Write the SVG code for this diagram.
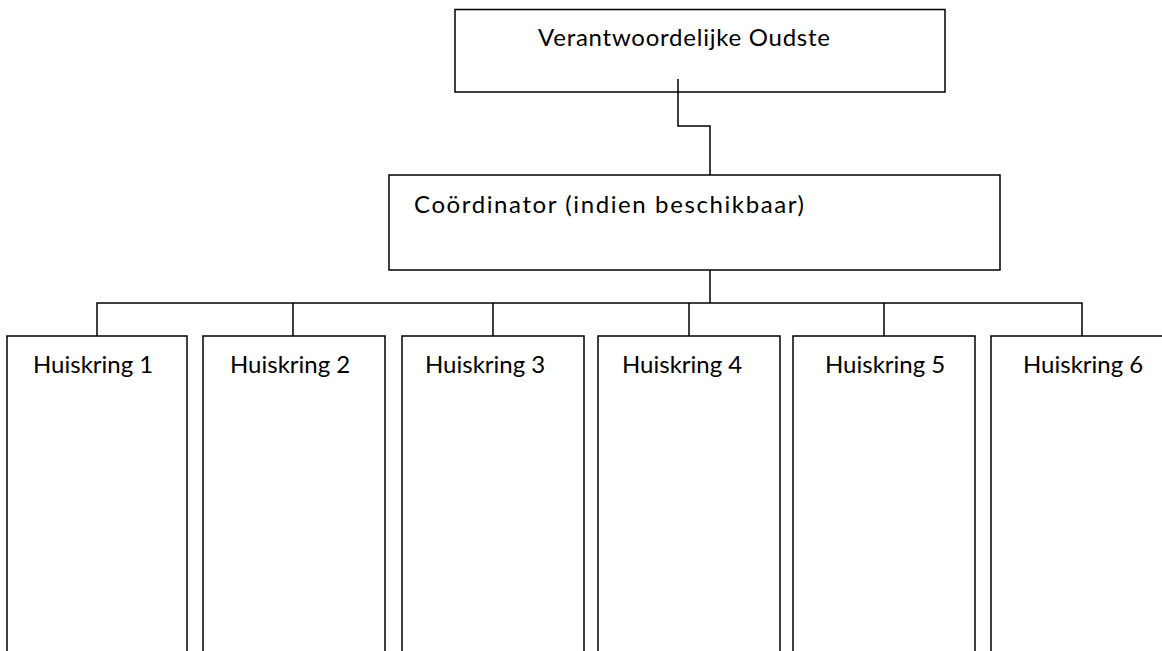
<svg xmlns="http://www.w3.org/2000/svg" width="1162" height="651" viewBox="0 0 1162 651">
<style>
.box{fill:#fff;stroke:#000;stroke-width:1.5}
.con{fill:none;stroke:#000;stroke-width:1.5}
text{font-family:Lato,"Liberation Sans",sans-serif;font-size:24px;fill:#000}
</style>
<rect width="1162" height="651" fill="#fff"/>
<g id="n-oudste"><rect class="box" x="455" y="9.5" width="490" height="82.5"/><text x="538" y="46" textLength="292" lengthAdjust="spacing">Verantwoordelijke Oudste</text></g>
<g id="n-coord"><rect class="box" x="389" y="175" width="611" height="95"/><text x="414" y="213" textLength="390" lengthAdjust="spacing">Coördinator (indien beschikbaar)</text></g>
<g id="n-h1"><rect class="box" x="7" y="336" width="180" height="330"/><text x="33" y="373">Huiskring 1</text></g>
<g id="n-h2"><rect class="box" x="203" y="336" width="182" height="330"/><text x="230" y="373">Huiskring 2</text></g>
<g id="n-h3"><rect class="box" x="402" y="336" width="182" height="330"/><text x="425" y="373">Huiskring 3</text></g>
<g id="n-h4"><rect class="box" x="598" y="336" width="182" height="330"/><text x="622" y="373">Huiskring 4</text></g>
<g id="n-h5"><rect class="box" x="793" y="336" width="182" height="330"/><text x="825" y="373">Huiskring 5</text></g>
<g id="n-h6"><rect class="box" x="991" y="336" width="190" height="330"/><text x="1023" y="373">Huiskring 6</text></g>
<g id="connectors">
<path class="con" d="M678 79 V126 H710 V175"/>
<path class="con" d="M710 270 V303"/>
<path class="con" d="M97 336 V303 H1082 V336"/>
<path class="con" d="M293 303 V336 M493 303 V336 M689 303 V336 M884 303 V336"/>
</g>
</svg>
